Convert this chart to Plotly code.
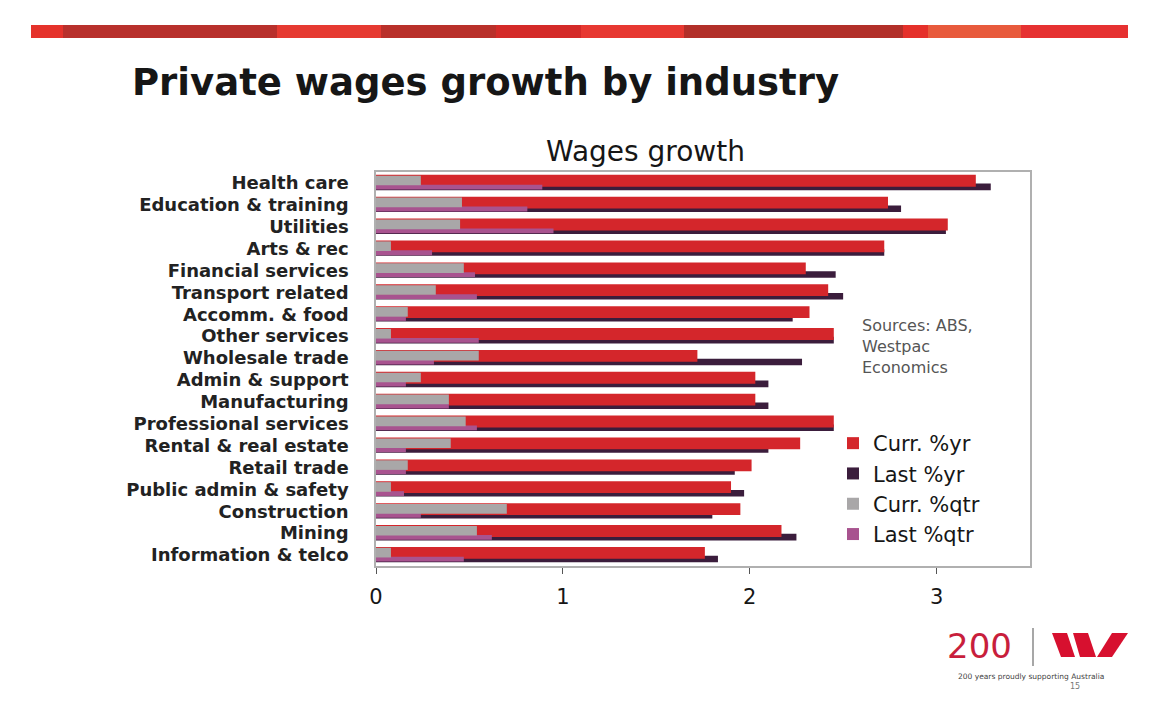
import plotly.graph_objects as go

# wages growth by industry, %
industries = [
    "Health care", "Education & training", "Utilities", "Arts & rec",
    "Financial services", "Transport related", "Accomm. & food",
    "Other services", "Wholesale trade", "Admin & support", "Manufacturing",
    "Professional services", "Rental & real estate", "Retail trade",
    "Public admin & safety", "Construction", "Mining", "Information & telco",
]
curr_yr = [3.21, 2.74, 3.06, 2.72, 2.30, 2.42, 2.32, 2.45, 1.72,
           2.03, 2.03, 2.45, 2.27, 2.01, 1.90, 1.95, 2.17, 1.76]
last_yr = [3.29, 2.81, 3.05, 2.72, 2.46, 2.50, 2.23, 2.45, 2.28,
           2.10, 2.10, 2.45, 2.10, 1.92, 1.97, 1.80, 2.25, 1.83]
curr_qtr = [0.24, 0.46, 0.45, 0.08, 0.47, 0.32, 0.17, 0.08, 0.55,
            0.24, 0.39, 0.48, 0.40, 0.17, 0.08, 0.70, 0.54, 0.08]
last_qtr = [0.89, 0.81, 0.95, 0.30, 0.53, 0.54, 0.16, 0.55, 0.31,
            0.16, 0.39, 0.54, 0.16, 0.16, 0.15, 0.24, 0.62, 0.47]
x_ticks = [0, 1, 2, 3]

# plot area in pixels: x 376-1030, y 172-566
L, R, T, B = 376, 1030, 172, 566
W, H = 1160, 704


def px(x):
    return (x - L) / (R - L)


def py(y):
    return (B - y) / (B - T)


FONT = "DejaVu Sans, Liberation Sans, Arial, sans-serif"

fig = go.Figure()

# draw order: dark behind red, quarterly bars on top
fig.add_trace(go.Bar(x=last_yr, y=industries, orientation="h", name="Last %yr",
                     marker=dict(color="#3b1d3c", line_width=0),
                     offset=0.03, width=0.30, legendrank=2))
fig.add_trace(go.Bar(x=curr_yr, y=industries, orientation="h", name="Curr. %yr",
                     marker=dict(color="#d4262b", line_width=0),
                     offset=-0.37, width=0.54, legendrank=1))
fig.add_trace(go.Bar(x=last_qtr, y=industries, orientation="h", name="Last %qtr",
                     marker=dict(color="#a8538f", line_width=0),
                     offset=0.08, width=0.22, legendrank=4))
fig.add_trace(go.Bar(x=curr_qtr, y=industries, orientation="h", name="Curr. %qtr",
                     marker=dict(color="#a9a7a8", line_width=0),
                     offset=-0.33, width=0.44, legendrank=3))

shapes = []
# red stripe along the top of the slide
stripe = [
    (31, 63, "#e5322b"), (63, 277, "#b8302c"), (277, 381, "#e63a31"),
    (381, 496, "#b9302a"), (496, 581, "#d42a28"), (581, 684, "#e73831"),
    (684, 903, "#b22f29"), (903, 928, "#e5302a"), (928, 1021, "#e85a3c"),
    (1021, 1128, "#e63131"),
]
for x0, x1, c in stripe:
    shapes.append(dict(type="rect", xref="paper", yref="paper",
                       x0=px(x0), x1=px(x1), y0=py(38), y1=py(25),
                       fillcolor=c, line_width=0, layer="above"))

# logo: divider and the W
shapes.append(dict(type="line", xref="paper", yref="paper",
                   x0=px(1033), x1=px(1033), y0=py(628), y1=py(666),
                   line=dict(color="#8a8a8a", width=1.5)))
logo_parts = [
    [(1052, 633), (1067, 633), (1075, 657), (1061, 657)],
    [(1073, 633), (1088, 633), (1096, 657), (1080, 657)],
    [(1112, 633), (1128, 633), (1112, 657), (1097, 657)],
]
for pts in logo_parts:
    path = "M " + " L ".join(f"{px(a):.5f},{py(b):.5f}" for a, b in pts) + " Z"
    shapes.append(dict(type="path", xref="paper", yref="paper", path=path,
                       fillcolor="#d7102f", line_width=0))

annotations = [
    dict(text="<b>Private wages growth by industry</b>", x=px(130), y=py(82),
         xanchor="left", yanchor="middle", showarrow=False,
         font=dict(size=37, color="#161616", family=FONT)),
    dict(text="Wages growth", x=px(645), y=py(151), xanchor="center",
         yanchor="middle", showarrow=False,
         font=dict(size=28, color="#161616", family=FONT)),
    dict(text="Sources: ABS,<br>Westpac<br>Economics", x=px(860), y=py(346),
         xanchor="left", yanchor="middle", align="left", showarrow=False,
         font=dict(size=16, color="#555555", family=FONT)),
    dict(text="200", x=px(979), y=py(646), xanchor="center", yanchor="middle",
         showarrow=False, font=dict(size=34, color="#c81e3c", family=FONT)),
    dict(text="200 years proudly supporting Australia", x=px(1031), y=py(676),
         xanchor="center", yanchor="middle", showarrow=False,
         font=dict(size=7.5, color="#444444", family=FONT)),
    dict(text="15", x=px(1075), y=py(686), xanchor="center", yanchor="middle",
         showarrow=False, font=dict(size=8, color="#777777", family=FONT)),
]
for a in annotations:
    a["xref"] = "paper"
    a["yref"] = "paper"

fig.update_layout(
    width=W, height=H,
    margin=dict(l=L, r=W - R, t=T, b=H - B, pad=0),
    barmode="overlay",
    paper_bgcolor="white", plot_bgcolor="white",
    font=dict(family=FONT, color="#161616"),
    showlegend=True,
    legend=dict(x=px(833), y=py(423), xanchor="left", yanchor="top",
                bgcolor="rgba(0,0,0,0)", font=dict(size=21, color="#161616"),
                tracegroupgap=0, itemwidth=30),
    shapes=shapes,
    annotations=annotations,
)
fig.update_xaxes(range=[0, 3.5], tickvals=x_ticks, ticks="outside", ticklen=6,
                 tickcolor="#555555", showgrid=False, zeroline=False,
                 showline=True, linecolor="#b0b0b0", linewidth=1.5, mirror=True,
                 ticklabelstandoff=5,
                 tickfont=dict(size=21, color="#161616"))
fig.update_yaxes(categoryorder="array", categoryarray=industries,
                 range=[len(industries) - 0.5, -0.5], showgrid=False,
                 tickmode="linear", tick0=0, dtick=1,
                 showline=True, linecolor="#b0b0b0", linewidth=1.5, mirror=True,
                 ticks="", ticklabelstandoff=22,
                 tickfont=dict(size=18, color="#222222", weight="bold"))

# the page's default body margin would push the figure 8px in
fig.write_html("out.html", config={"displayModeBar": False},
               post_script="document.body.style.margin='0';")
